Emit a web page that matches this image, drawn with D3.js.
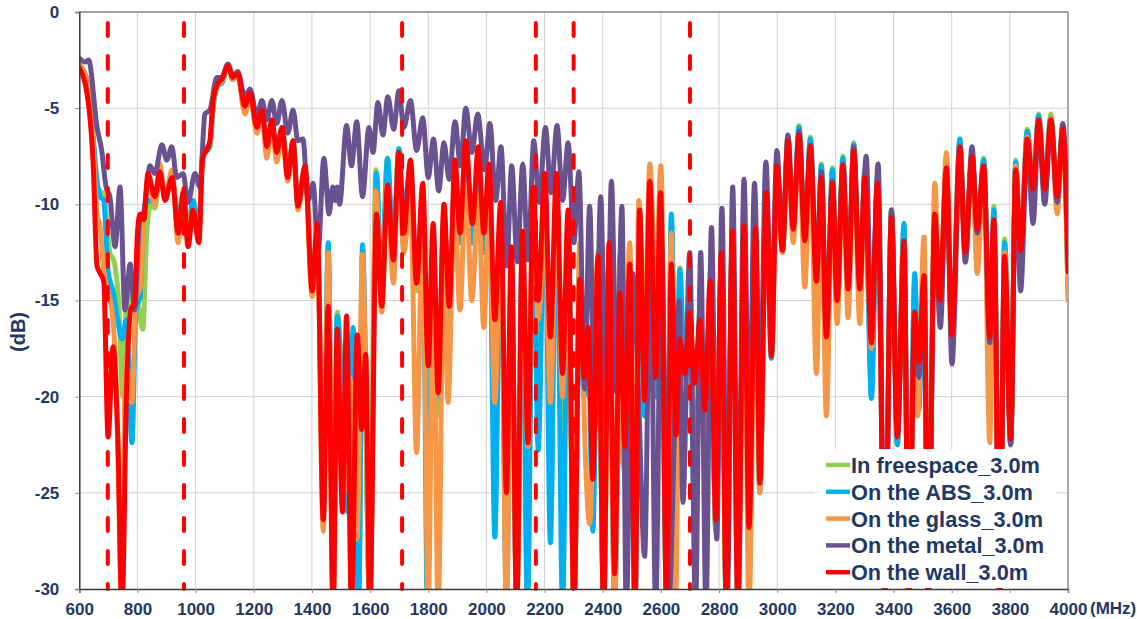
<!DOCTYPE html>
<html>
<head>
<meta charset="utf-8">
<script src="https://cdn.jsdelivr.net/npm/d3@7"></script>
<style>
  body { margin: 0; background: #fff; }
  text { font-family: "Liberation Sans", Arial, sans-serif; font-weight: bold; fill: #1F3864; }
</style>
</head>
<body>
<svg id="chart" width="1137" height="619"></svg>
<script>

// Tick labels and band markers (MHz / dB)
var xTicks = [600, 800, 1000, 1200, 1400, 1600, 1800, 2000, 2200, 2400, 2600, 2800, 3000, 3200, 3400, 3600, 3800, 4000];
var yTicks = [0, -5, -10, -15, -20, -25, -30];
var bandEdges = [698, 960, 1710, 2170, 2300, 2700];

var seriesNames = ["In freespace_3.0m", "On the ABS_3.0m", "On the glass_3.0m", "On the metal_3.0m", "On the wall_3.0m"];
var seriesColors = ["#92D050", "#00B0F0", "#F79646", "#6A5291", "#FF0000"];

var freespace = [[600,-2.8],[630,-3.7],[648,-6.8],[661,-9.0],[672,-9.3],[684,-9.5],[705,-12.5],[720,-13],[735,-15],[750,-20],[765,-14.5],[780,-15.5],[800,-15.2],[818,-16.5],[832,-11.5],[845,-10.0],[860,-10.2],[877,-8.6],[895,-9.5],[919,-8.8],[940,-10.5],[958,-9.5],[974,-11.3],[991,-9.8],[1011,-11.3],[1024,-7.5],[1049,-7.0],[1060,-5.0],[1077,-3.8],[1090,-3.7],[1111,-2.9],[1128,-3.5],[1145,-3.3],[1169,-5.1],[1187,-4.3],[1211,-6.1],[1228,-5.2],[1245,-7.0],[1262,-5.7],[1279,-7.3],[1297,-6.0],[1317,-8.4],[1335,-6.7],[1352,-10.0],[1376,-8.2],[1401,-14.0],[1418,-11.5],[1439,-25],[1456,-12.5],[1473,-30],[1487,-15.6],[1524,-26],[1542,-16.8],[1561,-31],[1574,-12.5],[1599,-31],[1620,-8.2],[1640,-14.5],[1658,-7.7],[1680,-12.5],[1697,-7.3],[1716,-10.8],[1739,-8.1],[1760,-14.5],[1781,-9.5],[1800,-25],[1817,-11.5],[1834,-21],[1854,-10.5],[1872,-16],[1892,-8.4],[1909,-12],[1929,-7.7],[1952,-12],[1972,-8.0],[1991,-12.5],[2009,-8.5],[2029,-24],[2049,-10.5],[2069,-28],[2086,-13],[2104,-31],[2124,-12],[2141,-31],[2161,-9.5],[2178,-20],[2201,-8.8],[2220,-24],[2241,-8.8],[2262,-27],[2281,-11],[2301,-31],[2321,-14.5],[2336,-20],[2350,-17],[2366,-25],[2384,-13],[2403,-31],[2422,-12.5],[2441,-31],[2459,-15],[2476,-24],[2493,-13.5],[2511,-31],[2527,-11],[2544,-21],[2562,-9.5],[2582,-20],[2599,-10],[2620,-31],[2636,-10.8],[2652,-23],[2665,-13.3],[2682,-19],[2699,-16],[2716,-26],[2734,-15.5],[2751,-22],[2770,-14.5],[2789,-27],[2808,-13],[2825,-31],[2846,-12],[2865,-31],[2886,-11.5],[2903,-27],[2926,-11.5],[2940,-25],[2963,-9.8],[2980,-18],[2999,-8.1],[3018,-12.5],[3037,-6.4],[3055,-11.5],[3075,-5.9],[3095,-12.2],[3114,-6.5],[3135,-14.5],[3152,-7.9],[3169,-17.5],[3190,-8.1],[3206,-15.5],[3226,-7.5],[3244,-14.8],[3263,-6.8],[3284,-15.0],[3301,-8.2],[3324,-19],[3345,-8.6],[3370,-30.5],[3393,-10.3],[3413,-22.5],[3436,-11.2],[3452,-30.5],[3473,-14],[3487,-20],[3505,-13.5],[3519,-30.5],[3542,-10.6],[3559,-15.5],[3582,-8.0],[3601,-17],[3628,-6.7],[3647,-12.7],[3670,-7.3],[3688,-11.6],[3710,-7.6],[3731,-17.5],[3745,-10.1],[3765,-30.5],[3782,-11.8],[3803,-22.5],[3820,-7.7],[3837,-12.6],[3860,-6.1],[3880,-9.0],[3899,-5.3],[3920,-9.0],[3941,-5.3],[3963,-9.5],[3982,-6.0],[4000,-14.5]];

var abs = [[600,-2.8],[630,-3.7],[648,-6.5],[661,-8.8],[672,-9.6],[684,-9.8],[699,-13.5],[716,-14.5],[732,-16],[747,-17],[762,-16],[781,-22.4],[795,-15.5],[809,-14.8],[822,-10.5],[836,-9.8],[860,-9.9],[877,-8.5],[895,-9.4],[919,-8.8],[940,-10.8],[958,-9.5],[974,-11.5],[991,-9.8],[1011,-11.5],[1024,-7.5],[1049,-7.0],[1060,-5.0],[1077,-3.8],[1090,-3.7],[1111,-2.9],[1128,-3.5],[1145,-3.3],[1169,-5.0],[1187,-4.3],[1211,-6.0],[1228,-5.2],[1245,-6.9],[1262,-5.7],[1279,-7.2],[1297,-6.0],[1317,-8.4],[1335,-6.7],[1352,-10.0],[1376,-8.2],[1401,-14.0],[1418,-11.5],[1439,-25],[1456,-12.0],[1473,-31],[1487,-15.8],[1524,-26.0],[1542,-16.4],[1561,-31],[1574,-12.1],[1599,-31],[1622,-8.4],[1640,-14.5],[1660,-7.6],[1680,-12.5],[1699,-7.1],[1716,-10.5],[1739,-8.0],[1760,-14],[1781,-9.5],[1797,-31],[1817,-11.5],[1834,-20],[1854,-10.5],[1872,-16],[1892,-8.4],[1909,-12],[1929,-7.7],[1952,-12],[1972,-8.0],[1991,-12.5],[2009,-8.5],[2029,-27.3],[2049,-10.5],[2069,-31],[2086,-13],[2104,-31],[2124,-12],[2141,-31],[2161,-9.5],[2178,-22.8],[2201,-8.8],[2220,-27.6],[2241,-8.8],[2262,-31],[2281,-11],[2301,-31],[2321,-14.5],[2336,-20],[2350,-17],[2366,-27],[2384,-13],[2403,-31],[2422,-12.5],[2441,-31],[2459,-15],[2476,-24],[2493,-13.5],[2511,-31],[2527,-11],[2544,-21],[2562,-9.5],[2582,-20],[2599,-10],[2620,-31],[2636,-10.5],[2652,-23],[2665,-13.4],[2682,-19],[2699,-16],[2716,-26],[2734,-15.5],[2751,-22],[2770,-14.5],[2789,-27],[2808,-13],[2825,-31],[2846,-12],[2865,-31],[2886,-11.5],[2903,-27],[2926,-11.5],[2940,-25],[2963,-9.8],[2980,-18],[2999,-8.2],[3018,-12.5],[3037,-6.5],[3055,-11.5],[3075,-6.0],[3095,-12.2],[3114,-6.6],[3135,-14.5],[3152,-8.0],[3169,-17.5],[3190,-8.2],[3206,-15.5],[3226,-7.6],[3244,-14.8],[3263,-6.9],[3284,-15.0],[3301,-8.3],[3324,-20.1],[3345,-8.7],[3370,-30.5],[3393,-10.3],[3413,-22.5],[3436,-11.0],[3452,-30.5],[3473,-13.6],[3487,-20.7],[3505,-13.5],[3519,-30.5],[3542,-10.6],[3559,-15.5],[3582,-8.0],[3601,-17],[3628,-6.6],[3647,-12.7],[3670,-7.4],[3688,-11.6],[3710,-7.7],[3731,-17.5],[3745,-10.3],[3765,-30.5],[3782,-12.0],[3803,-22.5],[3820,-7.8],[3837,-12.6],[3860,-6.2],[3880,-9.0],[3899,-5.4],[3920,-9.0],[3941,-5.5],[3963,-9.5],[3982,-6.0],[4000,-14.5]];

var glass = [[600,-2.7],[630,-3.8],[648,-7.0],[661,-10.5],[672,-11.2],[684,-13.5],[699,-14.5],[716,-16],[732,-22],[745,-31],[760,-18],[781,-20.3],[795,-14.8],[809,-14.4],[822,-10.8],[836,-8.8],[860,-10.0],[877,-7.9],[895,-9.7],[919,-8.2],[940,-12.0],[958,-9.2],[974,-11.5],[991,-10.3],[1011,-11.8],[1024,-7.2],[1049,-6.9],[1060,-4.8],[1077,-3.8],[1090,-3.6],[1111,-2.9],[1128,-3.5],[1145,-3.3],[1169,-5.3],[1187,-4.4],[1211,-6.3],[1228,-5.3],[1245,-7.6],[1262,-5.8],[1279,-7.8],[1297,-6.2],[1317,-8.8],[1335,-6.9],[1352,-10.3],[1376,-8.3],[1401,-14.8],[1418,-11.5],[1439,-27],[1456,-12.5],[1473,-31],[1487,-17],[1510,-25],[1530,-19],[1555,-27.4],[1574,-12.6],[1599,-31],[1620,-9.3],[1640,-15.6],[1658,-9.0],[1680,-14.1],[1697,-8.2],[1716,-12.5],[1739,-9.5],[1760,-22.9],[1781,-10.5],[1800,-31],[1817,-13],[1834,-31],[1854,-12],[1868,-20.3],[1890,-10.0],[1909,-15.5],[1929,-9.0],[1950,-15.0],[1972,-9.5],[1991,-16.4],[2009,-10],[2029,-20.3],[2049,-11],[2069,-31],[2086,-14],[2104,-31],[2124,-13],[2143,-22.6],[2161,-10],[2178,-16],[2201,-11],[2220,-20.3],[2241,-10.5],[2262,-20],[2281,-12],[2301,-31],[2321,-12.0],[2338,-22],[2355,-26.6],[2384,-12.5],[2403,-31],[2422,-14.5],[2441,-31],[2459,-12.6],[2470,-23.6],[2493,-12],[2511,-31],[2524,-9.8],[2544,-16.5],[2562,-7.9],[2582,-14.5],[2600,-8.0],[2620,-29],[2636,-11.5],[2650,-31],[2665,-17],[2682,-19],[2699,-16.5],[2716,-20],[2734,-17],[2751,-24],[2770,-13.5],[2789,-27],[2808,-12.8],[2825,-31],[2846,-11.8],[2865,-31],[2886,-11.5],[2903,-31],[2926,-11.5],[2940,-25],[2963,-9.8],[2980,-17.5],[2999,-8.3],[3018,-12.5],[3037,-7.0],[3055,-12],[3075,-6.6],[3095,-14.3],[3114,-7.2],[3135,-18.8],[3152,-8.8],[3169,-21.0],[3190,-9.0],[3206,-16.2],[3226,-8.3],[3244,-15.9],[3263,-7.4],[3284,-16.2],[3301,-8.7],[3324,-17.5],[3345,-8.9],[3370,-30.5],[3393,-10.3],[3413,-22],[3436,-12.2],[3452,-30.5],[3470,-18],[3483,-21],[3505,-11.7],[3519,-30.5],[3542,-8.9],[3559,-15.8],[3582,-7.3],[3601,-17.5],[3628,-7.3],[3647,-13.0],[3670,-7.6],[3688,-13.6],[3710,-8.0],[3731,-22.4],[3745,-10.8],[3765,-30.5],[3782,-12.5],[3803,-22.5],[3820,-8.0],[3837,-12.4],[3860,-6.5],[3880,-9.3],[3899,-5.6],[3920,-9.5],[3941,-5.5],[3963,-10.5],[3982,-6.1],[4000,-15]];

var metal = [[600,-2.4],[620,-2.6],[632,-2.5],[661,-6.0],[677,-7.2],[692,-9.1],[705,-9.6],[723,-12.2],[740,-9.1],[757,-15.5],[775,-13.1],[790,-15.5],[808,-10.8],[822,-10.4],[843,-8.0],[860,-8.4],[884,-6.9],[901,-7.7],[918,-7.0],[935,-8.6],[957,-8.4],[974,-9.9],[998,-8.4],[1015,-9.1],[1032,-5.3],[1049,-5.1],[1073,-3.4],[1090,-3.4],[1111,-2.7],[1128,-3.3],[1145,-3.1],[1169,-4.4],[1187,-4.0],[1211,-5.4],[1228,-4.6],[1245,-5.6],[1262,-4.6],[1279,-5.8],[1297,-4.6],[1317,-6.3],[1335,-5.1],[1352,-6.7],[1369,-6.6],[1387,-9.8],[1404,-8.9],[1421,-12.5],[1441,-7.6],[1459,-10.5],[1471,-9.1],[1479,-9.8],[1487,-9.1],[1495,-10.0],[1519,-5.9],[1536,-8.0],[1554,-5.7],[1574,-9.6],[1596,-6.0],[1610,-7.3],[1627,-4.7],[1644,-6.4],[1661,-4.4],[1681,-6.1],[1699,-4.1],[1716,-6.0],[1739,-4.6],[1760,-7.2],[1781,-5.5],[1800,-8.6],[1818,-6.6],[1836,-9.3],[1854,-6.8],[1872,-8.7],[1892,-5.7],[1911,-8.0],[1929,-5.0],[1950,-7.3],[1970,-5.3],[1994,-8.2],[2012,-5.8],[2032,-9.8],[2050,-7.0],[2070,-13.2],[2087,-8.0],[2106,-13],[2125,-7.9],[2143,-12.9],[2163,-6.7],[2181,-9.9],[2203,-6.0],[2222,-9.4],[2243,-5.9],[2262,-9.8],[2281,-6.8],[2301,-12.0],[2318,-8.3],[2338,-19.6],[2355,-10.1],[2373,-21.7],[2393,-9.6],[2412,-22],[2430,-8.8],[2448,-19.8],[2466,-10.1],[2481,-31],[2503,-13.6],[2521,-19.0],[2544,-28.3],[2564,-12.0],[2582,-31],[2602,-11.9],[2626,-31],[2663,-15.0],[2676,-25.5],[2699,-12.5],[2719,-31],[2737,-12.5],[2755,-31],[2774,-11.2],[2792,-27.4],[2810,-10.2],[2828,-31],[2847,-9.1],[2865,-29],[2886,-8.7],[2903,-23],[2922,-8.9],[2940,-21],[2961,-7.8],[2980,-16],[2999,-7.2],[3018,-12],[3037,-6.4],[3055,-11],[3075,-6.2],[3095,-11.5],[3114,-6.9],[3135,-13.5],[3152,-8.3],[3169,-16.5],[3190,-8.8],[3206,-14.5],[3226,-7.9],[3244,-14.0],[3263,-7.0],[3284,-14.0],[3306,-7.5],[3324,-16.5],[3347,-7.9],[3370,-30.5],[3393,-10.3],[3413,-22],[3436,-12.5],[3452,-30.5],[3473,-16],[3487,-19],[3505,-14],[3519,-30.5],[3542,-10.8],[3561,-16.4],[3582,-8.3],[3601,-18.3],[3628,-7.4],[3647,-13],[3670,-7.0],[3688,-11.5],[3710,-8.1],[3731,-17.2],[3745,-11.0],[3765,-30.5],[3782,-13],[3803,-22.5],[3820,-8.5],[3837,-14.5],[3860,-6.9],[3880,-11.0],[3899,-5.8],[3920,-10.0],[3941,-5.7],[3963,-9.9],[3982,-5.8],[4000,-12]];

var wall = [[600,-2.9],[630,-4.6],[648,-8.0],[661,-13.2],[672,-13.6],[684,-14.0],[699,-22.1],[716,-17.4],[732,-22],[747,-31],[762,-20],[778,-15.4],[790,-15.2],[800,-11.5],[809,-10.5],[822,-10.8],[836,-8.4],[860,-9.6],[877,-8.3],[895,-9.8],[919,-8.6],[940,-11.5],[958,-9.4],[974,-12.2],[991,-10.3],[1011,-12.0],[1024,-7.7],[1049,-6.7],[1060,-4.6],[1077,-3.7],[1090,-3.5],[1111,-2.8],[1128,-3.4],[1145,-3.2],[1169,-4.9],[1187,-4.2],[1211,-6.0],[1228,-5.1],[1245,-7.0],[1262,-5.6],[1279,-7.3],[1297,-6.0],[1317,-8.6],[1335,-6.7],[1352,-10.1],[1376,-8.0],[1401,-14.5],[1418,-11.0],[1439,-26.4],[1456,-15.3],[1473,-31],[1487,-16.5],[1505,-26],[1519,-15.8],[1536,-31],[1556,-16.8],[1571,-21.7],[1585,-17.8],[1599,-31],[1622,-10.5],[1640,-15.3],[1660,-9.0],[1680,-12.9],[1699,-7.3],[1716,-11.5],[1739,-7.7],[1760,-14.1],[1781,-8.9],[1800,-18.4],[1817,-11.0],[1834,-19.8],[1854,-10.0],[1872,-15.3],[1892,-7.7],[1909,-11.5],[1929,-6.7],[1952,-11.0],[1972,-7.0],[1991,-11.5],[2009,-7.9],[2029,-16.0],[2049,-9.9],[2069,-25.0],[2086,-12.2],[2104,-31],[2124,-11.4],[2143,-22.4],[2161,-9.1],[2178,-15.0],[2201,-8.4],[2220,-16.9],[2241,-8.4],[2262,-18.8],[2281,-10.3],[2301,-31],[2321,-13.9],[2336,-19],[2350,-16.4],[2366,-24.3],[2384,-12.7],[2403,-31],[2422,-12.0],[2441,-29.2],[2459,-14.6],[2476,-22.6],[2493,-13.1],[2511,-31],[2527,-10.3],[2544,-20.2],[2562,-8.8],[2582,-19.0],[2599,-9.4],[2620,-31],[2636,-13.1],[2652,-22],[2665,-17.0],[2682,-18.8],[2699,-15.6],[2716,-19.3],[2734,-16.0],[2751,-20.7],[2770,-14.0],[2789,-26.4],[2808,-12.5],[2825,-31],[2846,-11.4],[2865,-31],[2886,-11.1],[2903,-26.8],[2926,-11.2],[2940,-24.5],[2963,-9.4],[2980,-17.9],[2999,-8.0],[3018,-12.4],[3037,-6.7],[3055,-11.3],[3075,-6.4],[3095,-11.9],[3114,-7.0],[3135,-14.0],[3152,-8.6],[3169,-16.9],[3190,-8.9],[3206,-15.0],[3226,-8.0],[3244,-14.4],[3263,-7.2],[3284,-14.4],[3301,-8.6],[3324,-17.2],[3345,-8.9],[3370,-30.5],[3393,-10.7],[3413,-22.1],[3436,-11.9],[3452,-30.5],[3473,-15.6],[3487,-18.2],[3505,-13.7],[3519,-30.5],[3542,-10.5],[3559,-15.0],[3582,-8.1],[3601,-16.8],[3628,-7.0],[3647,-12.5],[3670,-7.5],[3688,-11.3],[3710,-8.0],[3731,-16.9],[3745,-10.8],[3765,-30.5],[3782,-12.7],[3803,-22.2],[3820,-8.2],[3837,-12.4],[3860,-6.6],[3880,-9.2],[3899,-5.6],[3920,-9.2],[3941,-5.6],[3963,-9.6],[3982,-6.1],[4000,-13.5]];

var series = [freespace, abs, glass, metal, wall];

var svg = d3.select("#chart");

var x = d3.scaleLinear().domain([600, 4000]).range([79.3, 1068]);
var y = d3.scaleLinear().domain([-30, 0]).range([589, 12]);

// grid
var grid = svg.append("g").attr("stroke", "#D0D0D0").attr("stroke-width", 1);
grid.selectAll(".vg").data(xTicks.slice(1, -1)).enter().append("line")
  .attr("x1", function (d) { return x(d); }).attr("x2", function (d) { return x(d); })
  .attr("y1", y(0)).attr("y2", y(-30));
grid.selectAll(".hg").data(yTicks.slice(0, -1)).enter().append("line")
  .attr("x1", x(600)).attr("x2", x(4000))
  .attr("y1", function (d) { return y(d); }).attr("y2", function (d) { return y(d); });

// plot frame (top and right)
svg.append("path")
  .attr("d", "M" + x(600) + "," + y(0) + "H" + x(4000) + "V" + y(-30))
  .attr("fill", "none").attr("stroke", "#8C8C8C").attr("stroke-width", 1.5);

svg.append("clipPath").attr("id", "plot")
  .append("rect")
  .attr("x", x(600)).attr("y", y(0))
  .attr("width", x(4000) - x(600)).attr("height", y(-30) - y(0));

var line = d3.line()
  .x(function (d) { return x(d[0]); })
  .y(function (d) { return y(d[1]); })
  .curve(d3.curveMonotoneX);

svg.append("g").attr("clip-path", "url(#plot)")
  .selectAll("path").data(series).enter().append("path")
  .attr("d", line)
  .attr("fill", "none")
  .attr("stroke", function (d, i) { return seriesColors[i]; })
  .attr("stroke-width", 5)
  .attr("stroke-linejoin", "round")
  .attr("stroke-linecap", "round");

// band edges
svg.append("g").selectAll("line").data(bandEdges).enter().append("line")
  .attr("x1", function (d) { return x(d); }).attr("x2", function (d) { return x(d); })
  .attr("y1", 23).attr("y2", y(-30))
  .attr("stroke", "#FF0000").attr("stroke-width", 4)
  .attr("stroke-dasharray", "13,20")
  .attr("stroke-linecap", "round");

// axes
var yAxis = d3.axisLeft(y).tickValues(yTicks).tickSize(4).tickPadding(16)
  .tickFormat(function (d) { return String(d); });
var xAxis = d3.axisBottom(x).tickValues(xTicks).tickSize(4).tickPadding(10)
  .tickFormat(function (d) { return String(d); });

var gy = svg.append("g").attr("transform", "translate(" + x(600) + ",0)").call(yAxis);
var gx = svg.append("g").attr("transform", "translate(0," + y(-30) + ")").call(xAxis);

[gy, gx].forEach(function (g) {
  g.select(".domain").attr("stroke", "#3A3A3A").attr("stroke-width", 1.5);
  g.selectAll(".tick line").attr("stroke", "#8C8C8C");
  g.selectAll(".tick text")
    .attr("fill", "#1F3864")
    .style("font-size", "17px")
    .style("font-family", "'Liberation Sans', Arial, sans-serif")
    .style("font-weight", "bold");
});

svg.append("text").attr("x", 1090).attr("y", 614).style("font-size", "17px").text("(MHz)");
svg.append("text")
  .attr("transform", "translate(18,332) rotate(-90)")
  .attr("text-anchor", "middle").attr("dominant-baseline", "central")
  .style("font-size", "20px").text("(dB)");

// legend
var legend = svg.append("g");
legend.append("rect").attr("x", 815).attr("y", 449).attr("width", 241).attr("height", 139).attr("fill", "#fff");
var textWidths = [189, 182, 192, 193, 177];
var item = legend.selectAll(".item").data(seriesNames).enter().append("g")
  .attr("transform", function (d, i) { return "translate(826," + (465 + i * 26.8) + ")"; });
item.append("line").attr("x1", 0).attr("x2", 24).attr("y1", 0).attr("y2", 0)
  .attr("stroke", function (d, i) { return seriesColors[i]; }).attr("stroke-width", 4.5);
item.append("text").attr("x", 25).attr("y", 8)
  .attr("textLength", function (d, i) { return textWidths[i]; })
  .attr("lengthAdjust", "spacingAndGlyphs")
  .style("font-size", "22px").text(function (d) { return d; });

</script>
</body>
</html>
